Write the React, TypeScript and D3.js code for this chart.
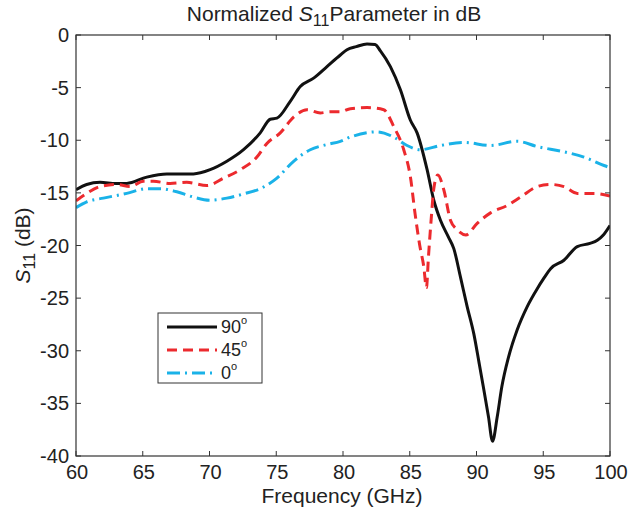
import React from "react";
import * as d3 from "d3";

const xTicks = [60, 65, 70, 75, 80, 85, 90, 95, 100];
const yTicks = [0, -5, -10, -15, -20, -25, -30, -35, -40];

const freq90 = [60, 60.8, 61.8, 63, 63.8, 65.3, 66.8, 68.8, 70.05, 71.3, 72.55, 73.8, 74.55, 75.05, 76.05, 76.8, 77.8, 78.8, 79.8, 80.3, 81, 81.8, 82.4, 82.8, 83.55, 84.3, 85.05, 85.55, 86.3, 86.8, 87.3, 87.9, 88.3, 88.8, 89.3, 89.8, 90.2, 90.55, 90.9, 91.2, 91.55, 91.9, 92.4, 93.05, 93.8, 94.55, 95.0, 95.55, 96.55, 97.55, 98.5, 99.05, 99.5, 100];
const s90 = [-14.7, -14.2, -14.0, -14.1, -14.1, -13.5, -13.2, -13.2, -12.8, -12.0, -10.9, -9.3, -8.0, -7.9, -6.3, -4.9, -4.1, -3.0, -1.9, -1.4, -1.1, -0.85, -0.9, -1.5, -3.0, -5.2, -8.1, -9.3, -12.8, -15.7, -17.6, -19.2, -20.3, -23.0, -25.8, -28.4, -31.2, -33.7, -36.3, -38.6, -36.3, -33.4, -30.6, -28.0, -25.8, -24.1, -23.2, -22.2, -21.4, -20.1, -19.8, -19.5, -19.0, -18.1];

const freq45 = [60, 60.8, 61.8, 63.05, 64.05, 65.05, 65.8, 67.05, 68.3, 69.8, 71.05, 72.3, 73.55, 74.3, 75.3, 76.3, 77.3, 78.3, 79.05, 79.8, 80.55, 81.8, 83.05, 83.8, 84.55, 85.05, 85.4, 85.75, 86.05, 86.25, 86.4, 86.6, 86.8, 87.1, 87.55, 88.05, 88.55, 89.2, 90.05, 91.05, 92.3, 93.3, 94.55, 95.55, 96.55, 97.55, 98.8, 100];
const s45 = [-15.75, -15.05, -14.4, -14.2, -14.4, -13.9, -13.9, -14.1, -14.0, -14.3, -13.6, -12.8, -11.6, -10.3, -9.3, -7.8, -7.1, -7.4, -7.3, -7.3, -7.0, -6.9, -7.1, -8.7, -10.9, -13.5, -17.0, -20.0, -22.0, -24.0, -21.1, -17.6, -14.6, -13.3, -14.7, -17.6, -18.5, -19.0, -17.9, -16.9, -16.2, -15.4, -14.4, -14.2, -14.4, -15.05, -15.05, -15.3];

const freq0 = [60, 60.8, 62.05, 63.8, 65.3, 66.3, 67.55, 68.8, 70.05, 71.3, 72.55, 73.8, 75.05, 76.3, 77.55, 78.8, 79.8, 80.55, 82.55, 83.8, 84.8, 85.8, 87.3, 89.05, 91.05, 93.05, 94.55, 96.55, 98.05, 99.55, 100];
const s0 = [-16.4, -15.85, -15.5, -15.05, -14.6, -14.6, -14.9, -15.4, -15.7, -15.5, -15.1, -14.6, -13.6, -12.0, -10.9, -10.4, -10.1, -9.7, -9.2, -9.7, -10.5, -10.9, -10.5, -10.2, -10.5, -10.1, -10.6, -11.1, -11.6, -12.4, -12.6];

const seriesNames = ["90", "45", "0"];

const W = 629, H = 517;
const L = 76, R = 610, T = 35, B = 456;
const FONT = "'Liberation Sans', Arial, Helvetica, sans-serif";
const TXT = "#222";

export default function App() {
  const x = d3.scaleLinear().domain([60, 100]).range([L, R]);
  const y = d3.scaleLinear().domain([-40, 0]).range([B, T]);
  const line = d3
    .line<[number, number]>()
    .x((d) => x(d[0]))
    .y((d) => y(d[1]))
    .curve(d3.curveMonotoneX);

  const series = [
    { name: seriesNames[0], f: freq90, v: s90, color: "#111111", dash: "none" },
    { name: seriesNames[1], f: freq45, v: s45, color: "#EC2A2E", dash: "10 6" },
    { name: seriesNames[2], f: freq0, v: s0, color: "#1AB2E8", dash: "13 5 2 5" },
  ];

  const tickLen = 5;

  return (
    <svg width={W} height={H} style={{ display: "block", position: "absolute", left: 0, top: 0 }} fontFamily={FONT}>
      <rect x={0} y={0} width={W} height={H} fill="#fff" />
      <defs>
        <clipPath id="plotclip">
          <rect x={L} y={T - 2} width={R - L} height={B - T + 4} />
        </clipPath>
      </defs>
      <g clipPath="url(#plotclip)">
        {series.map((s) => (
          <path
            key={s.name}
            d={line(s.f.map((f, i) => [f, s.v[i]] as [number, number])) || ""}
            fill="none"
            stroke={s.color}
            strokeWidth={3}
            strokeDasharray={s.dash}
            strokeLinejoin="round"
          />
        ))}
      </g>
      <rect x={L} y={T} width={R - L} height={B - T} fill="none" stroke="#333" strokeWidth={1.2} />
      {xTicks.map((t) => (
        <g key={"x" + t}>
          <line x1={x(t)} x2={x(t)} y1={B} y2={B - tickLen} stroke="#333" />
          <line x1={x(t)} x2={x(t)} y1={T} y2={T + tickLen} stroke="#333" />
          <text x={x(t) + 1} y={479} textAnchor="middle" fontSize={20} fill={TXT}>
            {t}
          </text>
        </g>
      ))}
      {yTicks.map((t) => (
        <g key={"y" + t}>
          <line x1={L} x2={L + tickLen} y1={y(t)} y2={y(t)} stroke="#333" />
          <line x1={R} x2={R - tickLen} y1={y(t)} y2={y(t)} stroke="#333" />
          <text x={69} y={y(t) + 7} textAnchor="end" fontSize={20} fill={TXT}>
            {t}
          </text>
        </g>
      ))}
      <text x={334} y={21} textAnchor="middle" fontSize={21} fill={TXT}>
        Normalized{" "}
        <tspan fontStyle="italic">S</tspan>
        <tspan fontSize={16} dy={5}>11</tspan>
        <tspan dy={-5}>Parameter in dB</tspan>
      </text>
      <text x={342} y={503} textAnchor="middle" fontSize={21} fill={TXT}>
        Frequency (GHz)
      </text>
      <text transform={`translate(30, ${(T + B) / 2}) rotate(-90)`} textAnchor="middle" fontSize={21} fill={TXT}>
        <tspan fontStyle="italic">S</tspan>
        <tspan fontSize={16} dy={5}>11</tspan>
        <tspan dy={-5}> (dB)</tspan>
      </text>
      <rect x={158} y={313} width={104} height={70} fill="#fff" stroke="#333" strokeWidth={1} />
      {series.map((s, i) => {
        const ly = 327 + i * 23;
        return (
          <g key={"lg" + s.name}>
            <line x1={167} x2={217} y1={ly} y2={ly} stroke={s.color} strokeWidth={3} strokeDasharray={s.dash} />
            <text x={221} y={ly + 6} fontSize={18} fill={TXT}>
              {s.name}
              <tspan fontSize={11} dy={-9}>o</tspan>
            </text>
          </g>
        );
      })}
    </svg>
  );
}
